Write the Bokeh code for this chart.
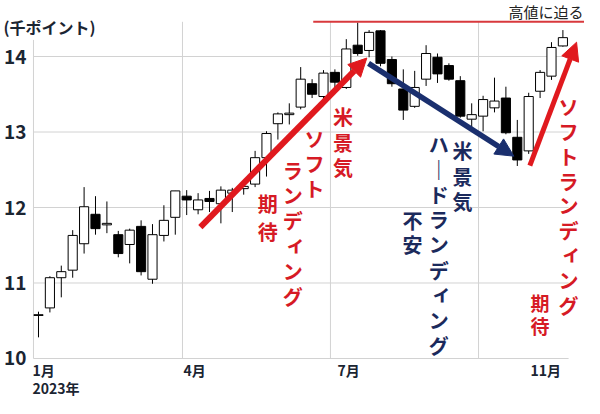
from bokeh.plotting import figure
from bokeh.models import ColumnDataSource, Range1d, Arrow, NormalHead
from bokeh.core.properties import value
from bokeh.embed import file_html
from bokeh.resources import INLINE

# ---- weekly candles (thousand points), Jan 2023 .. Nov 2023 ----
opens = [10.57, 10.67, 11.07, 11.17, 11.52, 11.91, 11.77, 11.64, 11.51, 11.75,
         11.05, 11.63, 11.87, 12.15, 11.97, 12.12, 12.05, 12.19, 12.25, 12.31,
         12.66, 13.11, 13.23, 13.33, 13.64, 13.47, 13.79, 13.59, 14.15, 14.08,
         14.34, 13.96, 13.57, 13.34, 13.70, 13.99, 13.88, 13.68, 13.17, 13.21,
         13.32, 13.45, 12.93, 12.75, 13.54, 13.74, 14.14]
highs = [10.62, 11.09, 11.23, 11.70, 12.27, 12.15, 12.08, 11.69, 11.72, 11.83,
         11.78, 12.03, 12.22, 12.23, 12.19, 12.22, 12.28, 12.26, 12.35, 12.75,
         13.01, 13.26, 13.38, 13.86, 13.70, 13.82, 13.83, 14.23, 14.45, 14.35,
         14.35, 14.00, 13.83, 13.81, 14.15, 14.04, 13.91, 13.74, 13.38, 13.48,
         13.72, 13.60, 13.16, 13.52, 13.82, 14.19, 14.35]
lows = [10.28, 10.61, 10.81, 11.07, 11.39, 11.64, 11.66, 11.34, 11.26, 11.10,
        10.99, 11.55, 11.64, 11.90, 11.91, 11.94, 11.79, 11.94, 12.17, 12.27,
        12.41, 12.90, 13.10, 13.30, 13.45, 13.42, 13.59, 13.57, 14.01, 13.99,
        13.87, 13.60, 13.16, 13.32, 13.61, 13.65, 13.68, 13.19, 13.03, 13.01,
        13.26, 12.97, 12.55, 12.71, 13.45, 13.69, 14.13]
closes = [10.58, 11.07, 11.15, 11.63, 12.01, 11.72, 11.79, 11.39, 11.70, 11.15,
          11.64, 11.83, 12.22, 12.10, 12.10, 12.08, 12.23, 12.23, 12.28, 12.66,
          12.98, 13.24, 13.25, 13.70, 13.50, 13.78, 13.66, 14.10, 14.04, 14.32,
          13.91, 13.64, 13.29, 13.59, 14.04, 13.77, 13.70, 13.21, 13.23, 13.43,
          13.41, 12.99, 12.63, 13.47, 13.79, 14.12, 14.25]

y_ticks = [10, 11, 12, 13, 14]
y_labels = ["10", "11", "12", "13", "14"]
month_ticks = [-0.53, 12.72, 26.23, 43.16]     # week index where each month label starts
month_labels = ["1月", "4月", "7月", "11月"]
year_tick = -0.53
year_label = "2023年"
grid_x = [-0.44, 12.63, 25.61, 38.6]
peak_level = 14.46
peak_label = "高値に迫る"
unit_label = "(千ポイント)"

# trend arrows (week index, value)
arrow_x0 = [14.2, 28.95, 43.1]
arrow_y0 = [11.74, 13.91, 12.555]
arrow_x1 = [28.8, 41.7, 47.2]
arrow_y1 = [13.98, 12.68, 14.19]

# vertical notes: text, anchor (week index, value of first character)
note_texts = ["米景気", "ソフト", "ランディング", "期待",
              "米景気", "ハードランディング", "不安",
              "ソフトランディング", "期待"]
note_x = [26.7, 24.2, 22.3, 20.1, 37.2, 35.1, 32.8, 46.5, 44.0]
note_y = [13.20, 12.916, 12.49, 12.05, 12.75, 12.84, 11.83, 13.34, 10.74]

FONT = "Noto Sans CJK JP"
RED = "#e0191e"
RED_TXT = "#d61a25"
NAVY = "#1a2f6e"
NAVY_TXT = "#1b2a5c"
DARK = "#1b2532"
GRID = "#d2d2d2"

note_colors = [RED_TXT] * 4 + [NAVY_TXT] * 3 + [RED_TXT] * 2
note_pitch = [25.2, 25.2, 25.2, 27.3, 25.2, 25.2, 24, 24.9, 23]
note_size = ["20px"] * 8 + ["19px"]

X_LEFT, X_RIGHT = -3.333, 47.895
Y_BOTTOM, Y_TOP = 9.470, 14.742

p = figure(width=584, height=398, x_range=Range1d(X_LEFT, X_RIGHT), y_range=Range1d(Y_BOTTOM, Y_TOP),
           output_backend="svg", toolbar_location=None,
           min_border_left=0, min_border_right=0, min_border_top=0, min_border_bottom=0,
           outline_line_color=None, background_fill_color="white", border_fill_color="white")
p.grid.visible = False
p.axis.visible = False

# grid lines
n_h = len(y_ticks)
p.segment(x0=[grid_x[0]] * n_h, y0=y_ticks, x1=[46.5] * n_h, y1=y_ticks,
          line_color=GRID, line_width=1)
p.segment(x0=grid_x, y0=[10] * len(grid_x), x1=grid_x,
          y1=[14.22] + [peak_level] * (len(grid_x) - 1), line_color=GRID, line_width=1)

# y tick labels (through the y scale)
p.text(x=[-1.05] * n_h, y=y_ticks, text=y_labels, text_font=value(FONT), text_font_style="bold",
       text_font_size="19px", text_color=DARK, text_align="right", text_baseline="middle")

# month labels and year
p.text(x=month_ticks, y=[9.854] * len(month_ticks), text=month_labels, text_font=value(FONT),
       text_font_style="bold", text_font_size="14px", text_color=DARK,
       text_align="left", text_baseline="middle")
p.text(x=[year_tick], y=[9.61], text=[year_label], text_font=value(FONT),
       text_font_style="bold", text_font_size="14px", text_color=DARK,
       text_align="left", text_baseline="middle")

# unit label
p.text(x=[-3.07], y=[14.39], text=[unit_label], text_font=value(FONT), text_font_style="bold",
       text_font_size="16px", text_color=DARK, text_align="left", text_baseline="middle")

# candles
idx = list(range(len(opens)))
src = ColumnDataSource(dict(
    x=idx, o=opens, h=highs, l=lows, c=closes,
    top=[max(a, b) for a, b in zip(opens, closes)],
    bot=[min(a, b) for a, b in zip(opens, closes)],
    fill=["white" if c >= o else "black" for o, c in zip(opens, closes)],
))
p.segment(x0="x", y0="h", x1="x", y1="l", source=src, line_color="black", line_width=1)
p.vbar(x="x", width=0.8, top="top", bottom="bot", fill_color="fill", line_color="black",
       line_width=1, source=src)

# peak level line and label
p.segment(x0=[24.1], y0=[peak_level], x1=[X_RIGHT], y1=[peak_level], line_color="#d8393c", line_width=2)
p.text(x=[47.8], y=[14.6], text=[peak_label], text_font=value(FONT), text_font_size="15px",
       text_color="#222222", text_align="right", text_baseline="middle")

# arrows
arrow_colors = [RED, NAVY, RED]
arrow_widths = [6, 5.5, 5]
for x0, y0, x1, y1, col, lw in zip(arrow_x0, arrow_y0, arrow_x1, arrow_y1, arrow_colors, arrow_widths):
    p.add_layout(Arrow(end=NormalHead(size=18, fill_color=col, line_color=col),
                       x_start=x0, y_start=y0, x_end=x1, y_end=y1,
                       line_color=col, line_width=lw))

# vertical text notes
vert = {"ー": "｜"}
small = set("ィャュョッ")
cx, cy, ct, cc, cxo, cyo, cs = [], [], [], [], [], [], []
for t, x, y, col, pitch, size in zip(note_texts, note_x, note_y, note_colors, note_pitch, note_size):
    for k, ch in enumerate(t):
        cx.append(x)
        cy.append(y)
        ct.append(vert.get(ch, ch))
        cc.append(col)
        cxo.append(3 if ch in small else 0)
        cyo.append(k * pitch - (3 if ch in small else 0))
        cs.append(size)
tsrc = ColumnDataSource(dict(x=cx, y=cy, text=ct, color=cc, xo=cxo, yo=cyo, size=cs))
p.text(x="x", y="y", text="text", x_offset="xo", y_offset="yo", source=tsrc,
       text_color="color", text_font=value(FONT), text_font_style="bold",
       text_font_size="size", text_align="center", text_baseline="middle")

open("out.html", "w").write(file_html(p, INLINE))
